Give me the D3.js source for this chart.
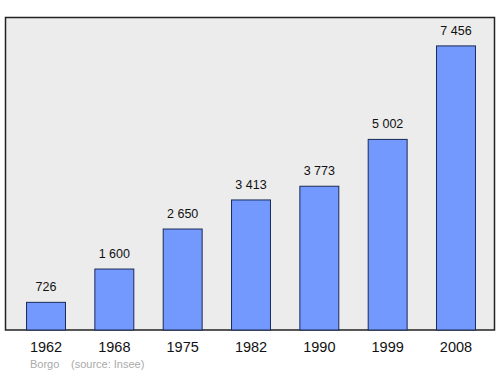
<!DOCTYPE html>
<html>
<head>
<meta charset="utf-8">
<script src="https://cdn.jsdelivr.net/npm/d3@7"></script>
<style>
body { margin: 0; background: #fff; }
svg { display: block; font-family: "Liberation Sans", Arial, sans-serif; }
</style>
</head>
<body>
<svg id="chart" width="500" height="374"></svg>
<script>
var years = ["1962", "1968", "1975", "1982", "1990", "1999", "2008"];
var population = [726, 1600, 2650, 3413, 3773, 5002, 7456];
var townName = "Borgo";
var sourceText = "(source: Insee)";

var width = 500,
	height = 374;
var frame = {left: 5.5, top: 17.5, right: 494.5, bottom: 330};

var svg = d3.select("#chart");

var x = d3.scaleBand()
	.domain(years)
	.range([frame.left + 6, frame.right - 4])
	.paddingInner(0.43)
	.paddingOuter(0.22);

var y = d3.scaleLinear()
	.domain([0, d3.max(population) * 1.1])
	.range([frame.bottom, frame.top]);

// plot background
svg.append("rect")
	.attr("x", frame.left)
	.attr("y", frame.top)
	.attr("width", frame.right - frame.left)
	.attr("height", frame.bottom - frame.top)
	.attr("fill", "#ececec")
	.attr("stroke", "#222")
	.attr("stroke-width", 1.5);

var bar = svg.selectAll("g.bar")
	.data(years)
.enter().append("g")
	.attr("class", "bar");

bar.append("rect")
	.attr("x", function(d) { return x(d); })
	.attr("y", function(d, i) { return y(population[i]); })
	.attr("width", x.bandwidth())
	.attr("height", function(d, i) { return frame.bottom - y(population[i]); })
	.attr("fill", "#7399ff")
	.attr("stroke", "#1a2a55")
	.attr("stroke-width", 1);

bar.append("text")
	.attr("x", function(d) { return x(d) + x.bandwidth() / 2; })
	.attr("y", function(d, i) { return y(population[i]) - 11; })
	.attr("text-anchor", "middle")
	.attr("font-size", 12.5)
	.attr("fill", "#111")
	.text(function(d, i) { return d3.format(",")(population[i]).replace(/,/g, " "); });

// year labels under the frame
var xAxis = d3.axisBottom(x).tickSize(0).tickPadding(0);
var gx = svg.append("g")
	.attr("transform", "translate(0," + frame.bottom + ")")
	.call(xAxis);
gx.select(".domain").remove();
gx.selectAll("text")
	.attr("y", 22)
	.attr("dy", 0)
	.attr("font-size", 14.5)
	.attr("font-family", "Liberation Sans, Arial, sans-serif")
	.attr("fill", "#111");

svg.append("text")
	.attr("x", 30)
	.attr("y", 368)
	.attr("font-size", 11)
	.attr("fill", "#aaa")
	.text(townName);

svg.append("text")
	.attr("x", 71)
	.attr("y", 368)
	.attr("font-size", 11)
	.attr("fill", "#aaa")
	.text(sourceText);
</script>
</body>
</html>
